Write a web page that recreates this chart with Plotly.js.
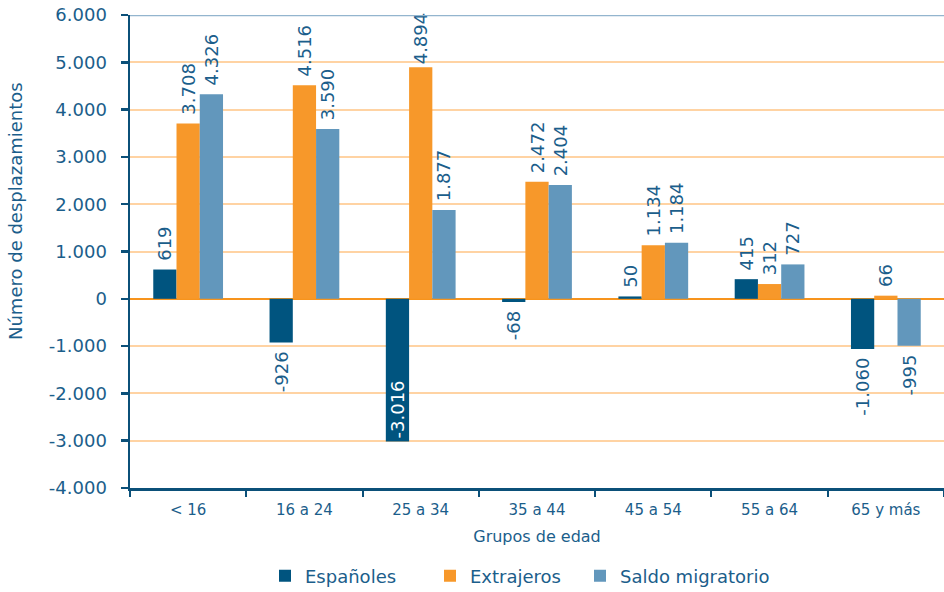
<!DOCTYPE html>
<html>
<head>
<meta charset="utf-8">
<script src="https://cdn.plot.ly/plotly-3.0.1.min.js"></script>
<style>html,body{margin:0;padding:0;background:#fff;}#chart{width:944px;height:592px;}</style>
</head>
<body>
<div id="chart"></div>
<script>
const categories = ['< 16', '16 a 24', '25 a 34', '35 a 44', '45 a 54', '55 a 64', '65 y más'];
const espanoles = [619, -926, -3016, -68, 50, 415, -1060];
const extranjeros = [3708, 4516, 4894, 2472, 1134, 312, 66];
const saldo = [4326, 3590, 1877, 2404, 1184, 727, -995];
const seriesNames = ['Españoles', 'Extrajeros', 'Saldo migratorio'];
const yTickVals = [-4000, -3000, -2000, -1000, 0, 1000, 2000, 3000, 4000, 5000, 6000];
const yTickText = ['-4.000', '-3.000', '-2.000', '-1.000', '0', '1.000', '2.000', '3.000', '4.000', '5.000', '6.000'];

const TXT = '#1B5E8B';
const FONT = 'DejaVu Sans, sans-serif';
const NB = '\u00a0';
const YMAX = 6000;

function fmt(v) {
  const s = Math.abs(v).toString().replace(/\B(?=(\d{3})+(?!\d))/g, '.');
  return (v < 0 ? '-' : '') + s;
}

function bar(name, vals, color, insideIdx, legendId) {
  return {
    type: 'bar', name: name, x: categories, y: vals, legend: legendId,
    marker: {color: color},
    text: vals.map((v, i) => {
      if (i === insideIdx) return fmt(v);
      if (v < 0) return fmt(v) + NB;
      return (v > YMAX * 0.8 ? '' : NB) + fmt(v);
    }),
    textposition: vals.map((v, i) => i === insideIdx ? 'inside' : 'outside'),
    insidetextanchor: 'end',
    textangle: -90,
    constraintext: 'none',
    cliponaxis: false,
    textfont: {family: FONT, size: 18, color: TXT},
    insidetextfont: {family: FONT, size: 18, color: '#ffffff'},
    outsidetextfont: {family: FONT, size: 18, color: TXT},
    hoverinfo: 'skip'
  };
}

const data = [
  bar(seriesNames[0], espanoles, '#00547F', 2, 'legend'),
  bar(seriesNames[1], extranjeros, '#F7982A', -1, 'legend2'),
  bar(seriesNames[2], saldo, '#6297BC', -1, 'legend3')
];

function leg(px) {
  return {orientation: 'h', x: px / 944, xanchor: 'left', xref: 'container',
          y: 0.027, yanchor: 'middle', yref: 'container',
          font: {family: FONT, size: 18, color: TXT}, itemwidth: 30};
}

const layout = {
  width: 944, height: 592,
  margin: {l: 130, r: 0, t: 15, b: 104},
  paper_bgcolor: '#ffffff', plot_bgcolor: '#ffffff',
  barmode: 'group', bargap: 0.4, bargroupgap: 0,
  font: {family: FONT, color: TXT},
  showlegend: true,
  legend: leg(265),
  legend2: leg(430),
  legend3: leg(580),
  xaxis: {
    type: 'category', showgrid: false, zeroline: false,
    showline: true, linecolor: '#0B5079', linewidth: 2.5,
    ticks: 'outside', tickson: 'boundaries', ticklen: 6, tickwidth: 2, tickcolor: '#0B5079',
    tickfont: {family: FONT, size: 15, color: TXT},
    ticklabelstandoff: 6,
    title: {text: 'Grupos de edad', font: {family: FONT, size: 16, color: TXT}, standoff: 14},
    automargin: false
  },
  yaxis: {
    range: [-4000, YMAX], tickvals: yTickVals, ticktext: yTickText,
    showgrid: true, gridcolor: '#FFD3A3', gridwidth: 2,
    zeroline: true, zerolinecolor: '#F7941D', zerolinewidth: 2.5,
    showline: true, linecolor: '#0B5079', linewidth: 2.5,
    ticks: 'outside', ticklen: 7, tickwidth: 2.5, tickcolor: '#0B5079',
    tickfont: {family: FONT, size: 18, color: TXT},
    ticklabelstandoff: 10,
    automargin: false
  },
  annotations: [{
    text: 'Número de desplazamientos', xref: 'paper', yref: 'paper',
    x: -115 / 814, y: (488 - 211) / 473, xanchor: 'center', yanchor: 'middle',
    textangle: -90, showarrow: false,
    font: {family: FONT, size: 18, color: TXT}
  }],
  shapes: [{type: 'line', xref: 'paper', yref: 'y', x0: 0, x1: 1, y0: YMAX, y1: YMAX,
            line: {color: '#93B5CE', width: 2.5}, layer: 'above'}]
};

Plotly.newPlot('chart', data, layout, {displayModeBar: false, staticPlot: true});
</script>
</body>
</html>
